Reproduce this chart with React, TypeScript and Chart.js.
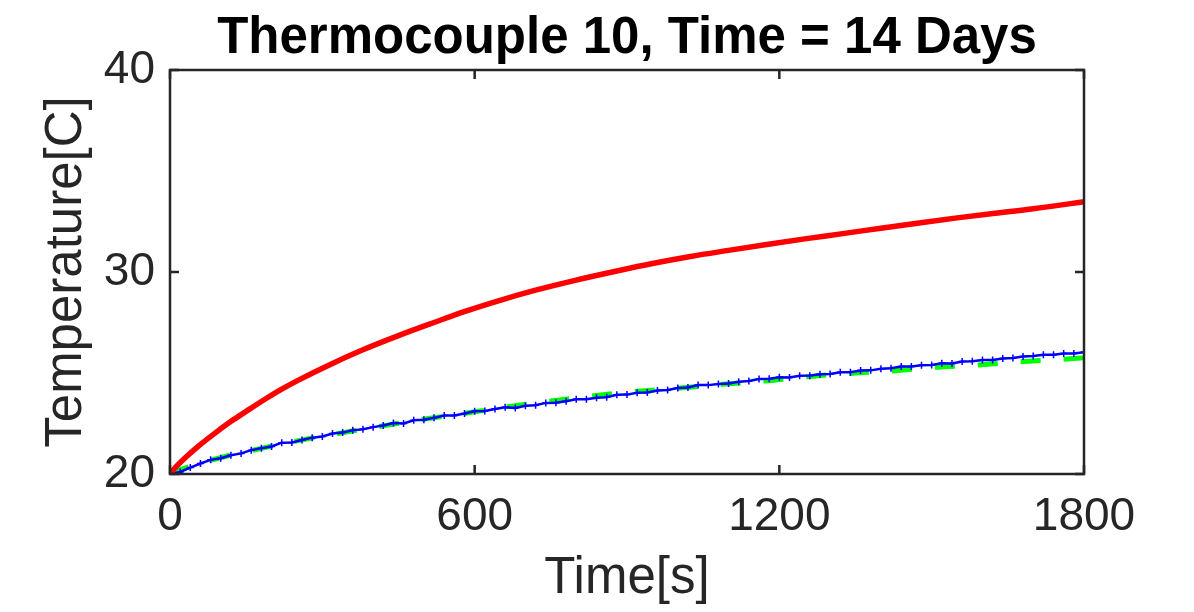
import React, { useEffect, useRef } from "react";
import { Chart, registerables } from "chart.js";

Chart.register(...registerables);

// ---- Data ----
const chartTitle = "Thermocouple 10, Time = 14 Days";
const xLabel = "Time[s]";
const yLabel = "Temperature[C]";
const xTicks = [0, 600, 1200, 1800];
const yTicks = [20, 30, 40];

// Red model curve
const redTime = [0, 10, 30, 56, 90, 121, 150, 187, 220, 253, 318, 380, 450, 520, 581, 650, 720, 800, 880, 950, 1025, 1100, 1175, 1250, 1325, 1400, 1475, 1550, 1625, 1700, 1800];
const redTemp = [20.0, 20.3, 20.8, 21.38, 22.05, 22.62, 23.1, 23.7, 24.2, 24.65, 25.45, 26.15, 26.85, 27.5, 28.05, 28.6, 29.1, 29.6, 30.05, 30.42, 30.77, 31.07, 31.36, 31.64, 31.9, 32.17, 32.43, 32.68, 32.91, 33.13, 33.48];

// Green dashed fit curve
const greenTime = [0, 30, 95, 180, 263, 341, 423, 502, 588, 673, 750, 900, 1000, 1087, 1170, 1256, 1338, 1421, 1505, 1590, 1674, 1757, 1800];
const greenTemp = [20.0, 20.3, 20.78, 21.27, 21.7, 22.05, 22.4, 22.72, 23.03, 23.36, 23.61, 24.05, 24.25, 24.44, 24.6, 24.82, 24.98, 25.1, 25.28, 25.4, 25.56, 25.68, 25.75];

// Blue measured data (every 20 s)
const blueTime = [0, 20, 40, 60, 80, 100, 120, 140, 160, 180, 200, 220, 240, 260, 280, 300, 320, 340, 360, 380, 400, 420, 440, 460, 480, 500, 520, 540, 560, 580, 600, 620, 640, 660, 680, 700, 720, 740, 760, 780, 800, 820, 840, 860, 880, 900, 920, 940, 960, 980, 1000, 1020, 1040, 1060, 1080, 1100, 1120, 1140, 1160, 1180, 1200, 1220, 1240, 1260, 1280, 1300, 1320, 1340, 1360, 1380, 1400, 1420, 1440, 1460, 1480, 1500, 1520, 1540, 1560, 1580, 1600, 1620, 1640, 1660, 1680, 1700, 1720, 1740, 1760, 1780, 1800];
const blueTemp = [
  20.0, 20.1, 20.32, 20.52, 20.7, 20.78, 20.93, 21.02, 21.18, 21.28,
  21.36, 21.55, 21.56, 21.68, 21.8, 21.86, 22.0, 22.05, 22.16, 22.22,
  22.32, 22.4, 22.52, 22.5, 22.66, 22.69, 22.78, 22.9, 22.9, 23.0,
  23.11, 23.12, 23.22, 23.3, 23.27, 23.38, 23.4, 23.52, 23.53, 23.6,
  23.7, 23.7, 23.78, 23.8, 23.92, 23.93, 24.02, 24.04, 24.13, 24.16,
  24.26, 24.28, 24.4, 24.4, 24.46, 24.48, 24.57, 24.6, 24.7, 24.72,
  24.79, 24.78, 24.86, 24.87, 24.94, 24.95, 25.04, 25.04, 25.12, 25.13,
  25.21, 25.23, 25.32, 25.32, 25.38, 25.4, 25.48, 25.47, 25.57, 25.58,
  25.64, 25.64, 25.72, 25.74, 25.82, 25.84, 25.9, 25.9, 25.96, 25.97,
  26.03,
];

const FONT = '"Liberation Sans", Arial, Helvetica, sans-serif';
const AXIS_COLOR = "#262626";

const toPoints = (xs: number[], ys: number[]) => xs.map((x, i) => ({ x, y: ys[i] }));

const boxPlugin = {
  id: "matlabBox",
  afterDatasetsDraw(chart: any) {
    const { ctx, chartArea } = chart;
    const { left, right, top, bottom } = chartArea;
    const xs = chart.scales.x;
    const ys = chart.scales.y;
    const tl = 9;
    ctx.save();
    ctx.strokeStyle = AXIS_COLOR;
    ctx.lineWidth = 2.5;
    ctx.beginPath();
    for (const v of xTicks) {
      const px = xs.getPixelForValue(v);
      ctx.moveTo(px, bottom);
      ctx.lineTo(px, bottom - tl);
      ctx.moveTo(px, top);
      ctx.lineTo(px, top + tl);
    }
    for (const v of yTicks) {
      const py = ys.getPixelForValue(v);
      ctx.moveTo(left, py);
      ctx.lineTo(left + tl, py);
      ctx.moveTo(right, py);
      ctx.lineTo(right - tl, py);
    }
    ctx.stroke();
    ctx.strokeRect(left, top, right - left, bottom - top);
    ctx.restore();
  },
};

export default function App() {
  const canvasRef = useRef<HTMLCanvasElement | null>(null);

  useEffect(() => {
    if (!canvasRef.current) return;
    const chart = new Chart(canvasRef.current, {
      type: "line",
      data: {
        datasets: [
          {
            label: "model",
            data: toPoints(redTime, redTemp),
            borderColor: "#ff0000",
            borderWidth: 5.5,
            pointRadius: 0,
            cubicInterpolationMode: "monotone",
            fill: false,
          },
          {
            label: "measured",
            data: toPoints(blueTime, blueTemp),
            borderColor: "#0000ff",
            borderWidth: 2.5,
            pointStyle: "cross",
            pointRadius: 3.5,
            pointBorderWidth: 1.5,
            pointBorderColor: "#0000ff",
            pointBackgroundColor: "#0000ff",
            fill: false,
          },
          {
            label: "fit",
            data: toPoints(greenTime, greenTemp),
            borderColor: "#00ff00",
            borderWidth: 5,
            borderDash: [20, 23],
            pointRadius: 0,
            cubicInterpolationMode: "monotone",
            fill: false,
          },
        ],
      },
      options: {
        responsive: false,
        animation: false,
        layout: { autoPadding: false, padding: { top: 0, left: 0, right: 110, bottom: 0 } },
        plugins: {
          legend: { display: false },
          tooltip: { enabled: false },
          title: {
            display: true,
            text: chartTitle,
            fullSize: false,
            color: "#000000",
            font: { family: FONT, size: 51, weight: "bold", lineHeight: 1.2 },
            padding: { top: 8, bottom: 0.8 },
          },
        },
        scales: {
          x: {
            type: "linear",
            min: 0,
            max: 1800,
            afterFit: (s: any) => { s.height = 138; },
            afterBuildTicks: (s: any) => { s.ticks = xTicks.map((v) => ({ value: v })); },
            grid: { display: false, drawTicks: false },
            border: { display: false },
            ticks: {
              color: AXIS_COLOR,
              padding: 16,
              maxRotation: 0,
              autoSkip: false,
              callback: (v: any) => String(v),
              font: { family: FONT, size: 46 },
            },
            title: {
              display: true,
              text: xLabel,
              color: AXIS_COLOR,
              font: { family: FONT, size: 51, lineHeight: 1.2 },
              padding: { top: 0, bottom: 2 },
            },
          },
          y: {
            type: "linear",
            min: 20,
            max: 40,
            afterFit: (s: any) => { s.width = 170; },
            afterBuildTicks: (s: any) => { s.ticks = yTicks.map((v) => ({ value: v })); },
            grid: { display: false, drawTicks: false },
            border: { display: false },
            ticks: {
              color: AXIS_COLOR,
              padding: 15,
              autoSkip: false,
              callback: (v: any) => String(v),
              font: { family: FONT, size: 46 },
            },
            title: {
              display: true,
              text: yLabel,
              color: AXIS_COLOR,
              font: { family: FONT, size: 51, lineHeight: 1.2 },
              padding: { top: 36, bottom: 0 },
            },
          },
        },
      },
      plugins: [boxPlugin],
    } as any);
    return () => chart.destroy();
  }, []);

  return (
    <div style={{ position: "fixed", left: 0, top: 0, width: 1194, height: 612, background: "#ffffff" }}>
      <canvas ref={canvasRef} width={1194} height={612} style={{ width: 1194, height: 612, display: "block" }} />
    </div>
  );
}
